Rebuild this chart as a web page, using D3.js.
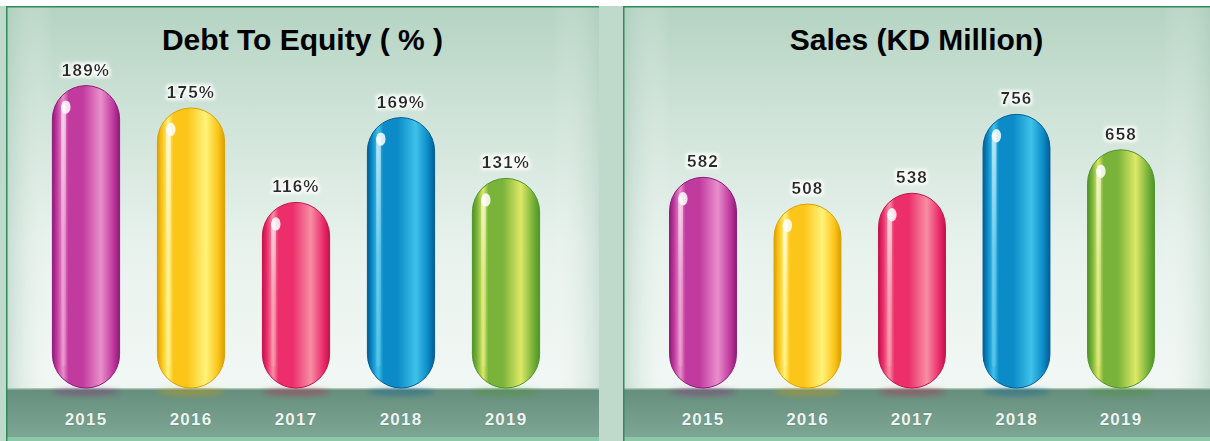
<!DOCTYPE html>
<html>
<head>
<meta charset="utf-8">
<script src="https://cdn.jsdelivr.net/npm/d3@7"></script>
<style>
  html, body { margin: 0; padding: 0; background: #ffffff; }
  svg { display: block; }
</style>
</head>
<body>
<svg id="chart" width="1210" height="441"></svg>
<script>
// ---- data ----
const years = ["2015", "2016", "2017", "2018", "2019"];
const debtToEquity = [189, 175, 116, 169, 131];
const sales = [582, 508, 538, 756, 658];
const titles = ["Debt To Equity ( % )", "Sales (KD Million)"];
const capsuleColors = ["magenta", "yellow", "red", "blue", "green"];

const palette = {
  magenta: { dark: "#8e1b78", main: "#c13b9e", light: "#e98fcb" },
  yellow:  { dark: "#dca000", main: "#fcc51a", light: "#fff37a" },
  red:     { dark: "#c2124c", main: "#ec2e6b", light: "#f78ea4" },
  blue:    { dark: "#035c95", main: "#0b8bc7", light: "#3fc2ea" },
  green:   { dark: "#4f9428", main: "#79b33a", light: "#dfe866" }
};

const svg = d3.select("#chart");
const W = 1210, H = 441;
const defs = svg.append("defs");

// outer background
svg.append("rect").attr("x", 0).attr("y", 0).attr("width", W).attr("height", H).attr("fill", "#bfd9cb");
svg.append("rect").attr("x", 0).attr("y", 0).attr("width", W).attr("height", 6).attr("fill", "#ffffff");

// panel background gradient
const bg = defs.append("linearGradient").attr("id", "panelBg").attr("x1", 0).attr("y1", 0).attr("x2", 0).attr("y2", 1);
bg.append("stop").attr("offset", "0").attr("stop-color", "#b4d3c2");
bg.append("stop").attr("offset", "0.25").attr("stop-color", "#cfe3d8");
bg.append("stop").attr("offset", "0.55").attr("stop-color", "#e8f2ed");
bg.append("stop").attr("offset", "0.85").attr("stop-color", "#f1f7f4");
bg.append("stop").attr("offset", "1").attr("stop-color", "#e3eee9");

const bgH = defs.append("linearGradient").attr("id", "panelBgH").attr("x1", 0).attr("y1", 0).attr("x2", 1).attr("y2", 0);
bgH.append("stop").attr("offset", "0").attr("stop-color", "#a9cbb8").attr("stop-opacity", 0.55);
bgH.append("stop").attr("offset", "0.08").attr("stop-color", "#ffffff").attr("stop-opacity", 0);
bgH.append("stop").attr("offset", "0.92").attr("stop-color", "#ffffff").attr("stop-opacity", 0);
bgH.append("stop").attr("offset", "1").attr("stop-color", "#a9cbb8").attr("stop-opacity", 0.45);

const bandG = defs.append("linearGradient").attr("id", "bandG").attr("x1", 0).attr("y1", 0).attr("x2", 0).attr("y2", 1);
bandG.append("stop").attr("offset", "0").attr("stop-color", "#658d7c");
bandG.append("stop").attr("offset", "1").attr("stop-color", "#7ea897");

const glow = defs.append("filter").attr("id", "glow").attr("x", "-30%").attr("y", "-50%").attr("width", "160%").attr("height", "200%");
glow.append("feMorphology").attr("in", "SourceAlpha").attr("operator", "dilate").attr("radius", 1.5).attr("result", "d");
glow.append("feGaussianBlur").attr("in", "d").attr("stdDeviation", 1.5).attr("result", "b");
glow.append("feFlood").attr("flood-color", "#ffffff").attr("flood-opacity", 0.85);
glow.append("feComposite").attr("in2", "b").attr("operator", "in").attr("result", "g");
const gm = glow.append("feMerge");
gm.append("feMergeNode").attr("in", "g");
gm.append("feMergeNode").attr("in", "SourceGraphic");

const blur = defs.append("filter").attr("id", "soft").attr("x", "-50%").attr("y", "-50%").attr("width", "200%").attr("height", "200%");
blur.append("feGaussianBlur").attr("stdDeviation", 2.5);

// capsule gradients
Object.entries(palette).forEach(([k, c]) => {
  const g = defs.append("linearGradient").attr("id", "cap-" + k).attr("x1", 0).attr("y1", 0).attr("x2", 1).attr("y2", 0);
  [[0, c.dark], [0.07, c.main], [0.16, c.light], [0.24, c.main], [0.45, c.main], [0.72, c.light], [0.9, c.main], [1, c.dark]]
    .forEach(([o, col]) => g.append("stop").attr("offset", o).attr("stop-color", col));
});
const shine = defs.append("linearGradient").attr("id", "shine").attr("x1", 0).attr("y1", 0).attr("x2", 0).attr("y2", 1);
shine.append("stop").attr("offset", "0").attr("stop-color", "#ffffff").attr("stop-opacity", 0.9);
shine.append("stop").attr("offset", "0.5").attr("stop-color", "#ffffff").attr("stop-opacity", 0.35);
shine.append("stop").attr("offset", "1").attr("stop-color", "#ffffff").attr("stop-opacity", 0.15);

const panels = [
  { x0: 6, x1: 599, values: debtToEquity, fmt: v => v + "%", yMax: 200, range: [33.5, 558.5], title: titles[0] },
  { x0: 623, x1: 1210, values: sales, fmt: v => String(v), yMax: 884, range: [650.75, 1173.25], title: titles[1] }
];

const baseY = 388;
const topY = 68;

panels.forEach(p => {
  const g = svg.append("g");
  g.append("rect").attr("x", p.x0).attr("y", 6).attr("width", p.x1 - p.x0).attr("height", H - 6).attr("fill", "url(#panelBg)");
  g.append("rect").attr("x", p.x0).attr("y", 6).attr("width", p.x1 - p.x0).attr("height", baseY - 6).attr("fill", "url(#panelBgH)");

  // band at bottom
  g.append("rect").attr("x", p.x0).attr("y", baseY).attr("width", p.x1 - p.x0).attr("height", H - baseY).attr("fill", "url(#bandG)");
  g.append("rect").attr("x", p.x0).attr("y", baseY).attr("width", p.x1 - p.x0).attr("height", 1.5).attr("fill", "#a7c6b8");
  g.append("rect").attr("x", p.x0).attr("y", 437).attr("width", p.x1 - p.x0).attr("height", 4).attr("fill", "#8cc9aa");

  // borders
  g.append("rect").attr("x", p.x0).attr("y", 6).attr("width", p.x1 - p.x0).attr("height", 1.5).attr("fill", "#2f8a5e");
  g.append("rect").attr("x", p.x0).attr("y", 6).attr("width", 1.5).attr("height", H - 6).attr("fill", "#2f8a5e");

  // title
  g.append("text").attr("x", (p.x0 + p.x1) / 2).attr("y", 50)
    .attr("text-anchor", "middle")
    .attr("font-family", "'Liberation Sans', Arial, sans-serif")
    .attr("font-weight", "bold").attr("font-size", 30).attr("fill", "#000")
    .text(p.title);

  const x = d3.scaleBand().domain(years).range(p.range).paddingInner(0.36).paddingOuter(0.18);
  const y = d3.scaleLinear().domain([0, p.yMax]).range([baseY, topY]);
  const bw = x.bandwidth();

  const caps = g.selectAll("g.cap").data(years.map((yr, i) => ({ yr, v: p.values[i], c: capsuleColors[i] })))
    .join("g").attr("class", "cap");

  // reflection shadow on band
  caps.append("ellipse")
    .attr("cx", d => x(d.yr) + bw / 2).attr("cy", baseY + 4)
    .attr("rx", bw / 2).attr("ry", 4)
    .attr("fill", d => palette[d.c].dark).attr("opacity", 0.35).attr("filter", "url(#soft)");

  caps.append("rect")
    .attr("x", d => x(d.yr)).attr("y", d => y(d.v))
    .attr("width", bw).attr("height", d => y(0) - y(d.v))
    .attr("rx", bw / 2).attr("ry", bw / 2)
    .attr("fill", d => "url(#cap-" + d.c + ")")
    .attr("stroke", d => palette[d.c].dark).attr("stroke-width", 1);

  // left shine streak
  caps.append("rect")
    .attr("x", d => x(d.yr) + bw * 0.13).attr("y", d => y(d.v) + bw * 0.28)
    .attr("width", bw * 0.07).attr("height", d => Math.max(0, y(0) - y(d.v) - bw * 0.6))
    .attr("rx", bw * 0.035)
    .attr("fill", "url(#shine)").attr("opacity", 0.7);

  // specular spot
  caps.append("ellipse")
    .attr("cx", d => x(d.yr) + bw * 0.2).attr("cy", d => y(d.v) + bw * 0.32)
    .attr("rx", bw * 0.07).attr("ry", bw * 0.1)
    .attr("fill", "#ffffff").attr("opacity", 0.85);

  // value labels
  caps.append("text")
    .attr("x", d => x(d.yr) + bw / 2).attr("y", d => y(d.v) - 10)
    .attr("text-anchor", "middle")
    .attr("font-family", "'Liberation Sans', Arial, sans-serif")
    .attr("font-weight", "bold").attr("font-size", 17)
    .attr("letter-spacing", 1.2)
    .attr("fill", "#2b2b2b")
    .attr("filter", "url(#glow)")
    .text(d => p.fmt(d.v));

  // x axis (year labels)
  const axis = g.append("g").attr("transform", `translate(0,${baseY})`)
    .call(d3.axisBottom(x).tickSize(0).tickPadding(0));
  axis.select(".domain").remove();
  axis.selectAll("text")
    .attr("y", 37)
    .attr("dy", 0)
    .attr("font-family", "'Liberation Sans', Arial, sans-serif")
    .attr("font-weight", "bold").attr("font-size", 17)
    .attr("letter-spacing", 1.2)
    .attr("fill", "#eef4f1")
    .style("paint-order", "stroke")
    .attr("stroke", "#4d7363").attr("stroke-width", 0.8).attr("stroke-opacity", 0.5);
});
</script>
</body>
</html>
